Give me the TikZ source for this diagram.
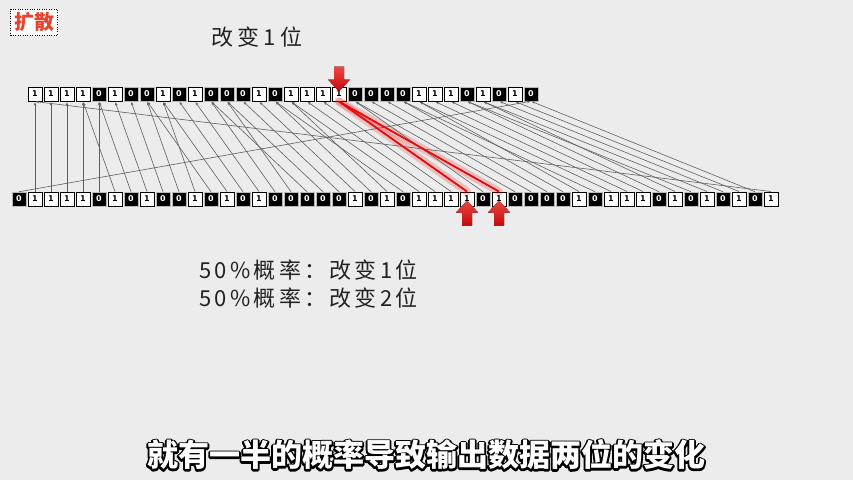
\documentclass[tikz,border=0pt]{standalone}
\usepackage{fontspec}
\newfontfamily\cjk{Noto Sans CJK SC}
\newfontfamily\cjksp[LetterSpace=15]{Noto Sans CJK SC}
\newfontfamily\cjktitle[LetterSpace=18]{Noto Sans CJK SC}
\newfontfamily\digitfont{DejaVu Sans}
\usetikzlibrary{arrows.meta}
\definecolor{paper}{RGB}{236,236,236}
\definecolor{arrowred}{RGB}{230,10,10}
\definecolor{linegray}{RGB}{95,95,95}
\definecolor{tagred}{RGB}{232,67,46}
\definecolor{inkgray}{RGB}{34,34,34}
\newcommand{\strokeon}{\special{pdf:literal direct 2 Tr 3.6 w 1 j 0 0 0 RG}}
\newcommand{\strokeoff}{\special{pdf:literal direct 0 Tr}}
\begin{document}
\begin{tikzpicture}[x=1pt,y=-1pt,
  bitcell/.style={minimum size=14pt, inner sep=0pt, font=\digitfont\bfseries\fontsize{8}{8}\selectfont},
  bit1/.style={bitcell, draw=black, fill=white, line width=1pt, text=black},
  bit0/.style={bitcell, draw=gray!55, fill=black, line width=0.5pt, text=white},
  wire/.style={draw=linegray, line width=0.6pt, {Stealth[length=3pt,width=2.6pt]}-, shorten <=1pt},
  glow/.style={draw=arrowred, line width=8pt, opacity=0.2, line cap=round},
  hot/.style={draw=arrowred, line width=1.8pt},
  bigarrow/.style={top color=arrowred!75, bottom color=arrowred!85!black, draw=none},
  label/.style={text=inkgray, font=\cjksp\fontsize{22}{22}\selectfont, anchor=west, inner sep=0pt},
  captext/.style={font=\cjk\bfseries\fontsize{31}{31}\selectfont}
]
\useasboundingbox[fill=paper] (0,0) rectangle (853,480);

% top-left tag
\node[draw=black, dotted, fill=white, inner sep=3.5pt, text=tagred,
      font=\cjk\bfseries\fontsize{20}{20}\selectfont] (tag) at (34,22) {扩散};

% title
\node[text=inkgray, font=\cjktitle\fontsize{22}{22}\selectfont] (title) at (257,37) {改变1位};

% top row (32 bits)
\foreach \b [count=\i] in {1,1,1,1,0,1,0,0,1,0,1,0,0,0,1,0,1,1,1,1,0,0,0,0,1,1,1,0,1,0,1,0}
  \node[bit\b] (t\i) at ({35+16*(\i-1)},94) {\b};

% bottom row (48 bits)
\foreach \b [count=\j] in {0,1,1,1,1,0,1,0,1,0,0,1,0,1,0,1,0,0,0,0,0,1,0,1,0,1,1,1,1,0,1,0,0,0,0,1,0,1,1,1,0,1,0,1,0,1,0,1}
  \node[bit\b] (b\j) at ({19+16*(\j-1)},199) {\b};

% red glow for the changed bit
\draw[glow] (t20.south) -- (b29.north);
\draw[glow] (t20.south) -- (b31.north);

% expansion wiring
\foreach \s [count=\j] in {32,1,2,3,4,5,4,5,6,7,8,9,8,9,10,11,12,13,12,13,14,15,16,17,16,17,18,19,20,21,20,21,22,23,24,25,24,25,26,27,28,29,28,29,30,31,32,1}
  \draw[wire] (t\s.south) -- (b\j.north);

\draw[hot] (t20.south) -- (b29.north);
\draw[hot] (t20.south) -- (b31.north);

% red block arrows
\coordinate (tipA) at ([yshift=-5pt]t20.north);
\fill[bigarrow] (tipA) -- ++(-11,-12) -- ++(6,0) -- ++(0,-13) -- ++(10,0) -- ++(0,13) -- ++(6,0) -- cycle;
\coordinate (tipB) at ([yshift=6pt]b29.south);
\fill[bigarrow] (tipB) -- ++(-11,12) -- ++(6,0) -- ++(0,13) -- ++(10,0) -- ++(0,-13) -- ++(6,0) -- cycle;
\coordinate (tipC) at ([yshift=6pt]b31.south);
\fill[bigarrow] (tipC) -- ++(-11,12) -- ++(6,0) -- ++(0,13) -- ++(10,0) -- ++(0,-13) -- ++(6,0) -- cycle;

% probability lines
\node[label] (p1) at (199,270) {50\%概率：改变1位};
\node[label] (p2) at (199,298) {50\%概率：改变2位};

% subtitle with black outline
\node[text=black, captext] (capline) at (426,455) {\strokeon 就有一半的概率导致输出数据两位的变化\strokeoff};
\node[text=white, captext] (caption) at (426,455) {就有一半的概率导致输出数据两位的变化};
\end{tikzpicture}
\end{document}
